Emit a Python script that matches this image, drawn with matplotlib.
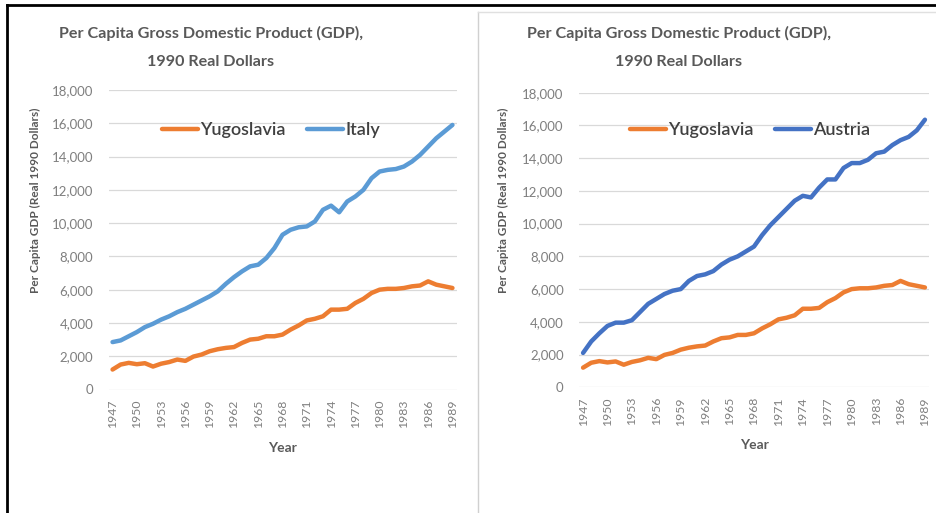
import matplotlib
matplotlib.use("Agg")
import matplotlib.pyplot as plt
from matplotlib.lines import Line2D
from matplotlib.ticker import FuncFormatter

plt.rcParams['font.family'] = ['Lato', 'DejaVu Sans']

# data
years = list(range(1947, 1990))
yugoslavia = [1200, 1500, 1600, 1520, 1580, 1380, 1550, 1650, 1800, 1720,
              1980, 2100, 2300, 2420, 2500, 2550, 2800, 3000, 3050, 3200,
              3200, 3300, 3600, 3850, 4150, 4250, 4400, 4800, 4800, 4850,
              5200, 5450, 5800, 6000, 6050, 6050, 6100, 6200, 6250, 6500,
              6300, 6200, 6100]
italy = [2850, 2950, 3200, 3450, 3750, 3950, 4200, 4400, 4650, 4850,
         5100, 5350, 5600, 5900, 6350, 6750, 7100, 7400, 7500, 7900,
         8500, 9300, 9600, 9750, 9800, 10100, 10800, 11050, 10650, 11300,
         11600, 12000, 12700, 13100, 13200, 13250, 13400, 13700, 14100, 14600,
         15100, 15500, 15900]
austria = [2100, 2800, 3300, 3750, 3950, 3950, 4100, 4600, 5100, 5400,
           5700, 5900, 6000, 6500, 6800, 6900, 7100, 7500, 7800, 8000,
           8300, 8600, 9300, 9900, 10400, 10900, 11400, 11700, 11600, 12200,
           12700, 12700, 13400, 13700, 13700, 13900, 14300, 14400, 14800, 15100,
           15300, 15700, 16350]
tick_years = list(range(1947, 1990, 3))
yticks = list(range(0, 18001, 2000))

W, H = 936, 513
fig = plt.figure(figsize=(W / 100, H / 100), dpi=100)

orange = '#ED7D31'
gray_txt = '#595959'
tick_col = '#7F7F7F'


def px(x0, y0, x1, y1):
    # pixel box -> figure fraction [left, bottom, width, height]
    return [x0 / W, 1 - y1 / H, (x1 - x0) / W, (y1 - y0) / H]


def draw_panel(rect, other, other_name, other_color, title_x, ylab_x, leg_x):
    ax = fig.add_axes(rect)
    ax.plot(years, yugoslavia, color=orange, lw=3.2, label='Yugoslavia', solid_capstyle='round')
    ax.plot(years, other, color=other_color, lw=3.2, label=other_name, solid_capstyle='round')
    ax.set_xlim(1946.5, 1989.5)
    ax.set_ylim(0, 18000)
    ax.set_yticks(yticks)
    ax.yaxis.set_major_formatter(FuncFormatter(lambda v, p: f'{int(v):,}'))
    ax.set_xticks(tick_years)
    ax.set_xticklabels([str(y) for y in tick_years], rotation=90)
    ax.tick_params(length=0, colors=tick_col, labelsize=8.8)
    ax.tick_params(axis='y', pad=11, labelsize=9.5)
    ax.tick_params(axis='x', pad=7)
    ax.grid(axis='y', color='#D9D9D9', lw=0.9)
    ax.set_axisbelow(True)
    for s in ax.spines.values():
        s.set_visible(False)
    ax.set_xlabel('Year', fontsize=10, fontweight='bold', color=gray_txt, labelpad=10)
    fig.text(title_x / W, 1 - 33 / H, 'Per Capita Gross Domestic Product (GDP),',
             ha='center', va='center', fontsize=11.6, fontweight='bold', color=gray_txt)
    fig.text(title_x / W, 1 - 62 / H, '1990 Real Dollars',
             ha='center', va='center', fontsize=11.6, fontweight='bold', color=gray_txt)
    fig.text(ylab_x / W, 1 - 200 / H, 'Per Capita GDP (Real 1990 Dollars)', rotation=90,
             ha='center', va='center', fontsize=8.5, fontweight='bold', color=gray_txt)
    leg = ax.legend(loc='center', bbox_to_anchor=(leg_x / W, 1 - 130 / H), bbox_transform=fig.transFigure,
                    ncol=2, frameon=False, prop={'size': 13, 'weight': 'semibold'},
                    handlelength=2.0, handletextpad=0.1, columnspacing=1.2, labelcolor='#404040')
    return ax


draw_panel(px(108.5, 90, 456.5, 389.5), italy, 'Italy', '#5B9BD5', 211, 35, 271)
draw_panel(px(579, 92.7, 929, 387.3), austria, 'Austria', '#4472C4', 679, 503, 750)

# frame lines around the screenshot
fig.add_artist(Line2D([7 / W, 1], [1 - 5 / H, 1 - 5 / H], color='black', lw=2))
fig.add_artist(Line2D([7 / W, 7 / W], [0, 1 - 5 / H], color='black', lw=2))
fig.add_artist(Line2D([478 / W, 478 / W], [0, 1 - 12 / H], color='#D0D0D0', lw=1))
fig.add_artist(Line2D([478 / W, 1], [1 - 12 / H, 1 - 12 / H], color='#E0E0E0', lw=1))

fig.savefig('out.png', dpi=100)
